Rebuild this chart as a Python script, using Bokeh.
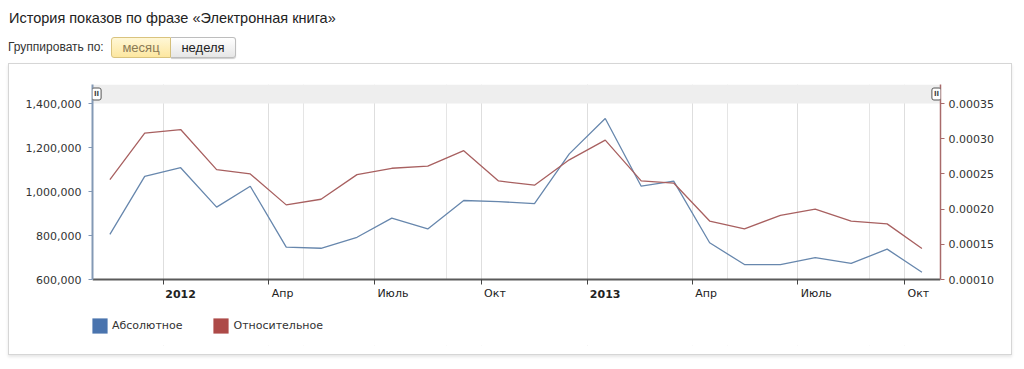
import pandas as pd
from bokeh.plotting import figure
from bokeh.models import (Range1d, LinearAxis, DatetimeAxis, FixedTicker, BoxAnnotation, Label,
                          Legend, LegendItem, Div, CustomJSTickFormatter, NumeralTickFormatter,
                          PrintfTickFormatter, ColumnDataSource, Grid)
from bokeh.layouts import column
from bokeh.embed import file_html
from bokeh.resources import INLINE

# ---------------- data ----------------
title_text = "История показов по фразе «Электронная книга»"
group_label = "Группировать по:"
group_buttons = ["месяц", "неделя"]
series_names = ["Абсолютное", "Относительное"]

months = ["2011-11", "2011-12", "2012-01", "2012-02", "2012-03", "2012-04", "2012-05",
          "2012-06", "2012-07", "2012-08", "2012-09", "2012-10", "2012-11", "2012-12",
          "2013-01", "2013-02", "2013-03", "2013-04", "2013-05", "2013-06", "2013-07",
          "2013-08", "2013-09", "2013-10"]
abs_vals = [805000, 1069000, 1108000, 929000, 1024000, 747000, 742000, 792000, 879000,
            830000, 959000, 954000, 945000, 1171000, 1332000, 1024000, 1047000, 767000,
            668000, 668000, 699000, 673000, 738000, 633000]
rel_vals = [0.000242, 0.000308, 0.000313, 0.000256, 0.000250, 0.000206, 0.000214, 0.000249,
            0.000258, 0.000261, 0.000283, 0.000240, 0.000234, 0.000270, 0.000298, 0.000240,
            0.000237, 0.000183, 0.000172, 0.000191, 0.000200, 0.000183, 0.000179, 0.000144]

tick_dates = ["2012-01-01", "2012-04-01", "2012-07-01", "2012-10-01",
              "2013-01-01", "2013-04-01", "2013-07-01", "2013-10-01"]
tick_labels = ["2012", "Апр", "Июль", "Окт", "2013", "Апр", "Июль", "Окт"]
tick_bold = [True, False, False, False, True, False, False, False]
left_ticks = [600000, 800000, 1000000, 1200000, 1400000]
right_ticks = [0.00010, 0.00015, 0.00020, 0.00025, 0.00030, 0.00035]
x_start, x_end = "2011-11-01", "2013-11-01"


def ms(s):
    return pd.Timestamp(s).value / 1e6


dates = [pd.Timestamp(m + "-16") for m in months]
source = ColumnDataSource(dict(date=dates, abs=abs_vals, rel=rel_vals))

FONT = "DejaVu Sans"
BLUE_LINE = "#6787ad"
RED_LINE = "#a86060"
BLUE_SQ = "#4a74ae"
RED_SQ = "#ad4a48"

# layout of the frame (pixels): navigator band on top, data area, legend area below
BAND_PX, DATA_PX, BELOW_PX = 19, 176, 66

left_lo, left_hi = left_ticks[0], left_ticks[-1]
right_lo, right_hi = right_ticks[0], right_ticks[-1]
lspan, rspan = left_hi - left_lo, right_hi - right_lo
y_range = Range1d(left_lo - lspan * BELOW_PX / DATA_PX, left_hi + lspan * BAND_PX / DATA_PX)
y2_range = Range1d(right_lo - rspan * BELOW_PX / DATA_PX, right_hi + rspan * BAND_PX / DATA_PX)

p = figure(width=1004, height=292, x_axis_location=None,
           x_range=Range1d(pd.Timestamp(x_start), pd.Timestamp(x_end)),
           y_range=y_range, output_backend="svg", toolbar_location=None,
           min_border_left=83, min_border_right=73, min_border_top=20, min_border_bottom=11,
           background_fill_color="white", border_fill_color="white")
p.outline_line_color = None
p.extra_y_ranges = {"rel": y2_range}
p.styles = {"border": "1px solid #d6d6d6", "box-shadow": "0 2px 3px rgba(0,0,0,0.10)"}

# vertical grid at the month ticks
p.ygrid.visible = False
xgrid = Grid(dimension=0, ticker=FixedTicker(ticks=[ms(d) for d in tick_dates]),
             grid_line_color="#dedede")
p.add_layout(xgrid)

# navigator band and white area below the x axis (covers grid below axis)
p.add_layout(BoxAnnotation(bottom=left_hi, fill_color="#eeeeee", fill_alpha=1,
                           line_color=None, level="underlay"))
p.add_layout(BoxAnnotation(top=left_lo, fill_color="white", fill_alpha=1,
                           line_color=None, level="underlay"))

# x axis, fixed at the bottom of the data area
xax = DatetimeAxis(fixed_location=left_lo, ticker=FixedTicker(ticks=[ms(d) for d in tick_dates]),
                   formatter=CustomJSTickFormatter(code="return ''"))
xax.axis_line_color = "#5a5a5a"
xax.axis_line_width = 2
xax.major_tick_line_color = "#444444"
xax.major_tick_out = 5
xax.major_tick_in = 0
xax.minor_tick_line_color = None
p.add_layout(xax, "below")

# left axis
yax = p.yaxis[0]
yax.ticker = FixedTicker(ticks=left_ticks)
yax.bounds = (left_lo, y_range.end)
yax.formatter = NumeralTickFormatter(format="0,0")
yax.axis_line_color = "#8399b5"
yax.axis_line_width = 2
yax.major_tick_line_color = "#8399b5"
yax.major_tick_out = 4
yax.major_tick_in = 0
yax.minor_tick_line_color = None
yax.major_label_standoff = 7
yax.major_label_text_font = FONT
yax.major_label_text_font_size = "11px"
yax.major_label_text_color = "#333333"

# right axis
rax = LinearAxis(y_range_name="rel", ticker=FixedTicker(ticks=right_ticks),
                 formatter=PrintfTickFormatter(format="%.5f"), bounds=(right_lo, y2_range.end))
rax.axis_line_color = "#a86a6a"
rax.axis_line_width = 1.5
rax.major_tick_line_color = "#a86a6a"
rax.major_tick_out = 4
rax.major_tick_in = 0
rax.minor_tick_line_color = None
rax.major_label_standoff = 4
rax.major_label_text_font = FONT
rax.major_label_text_font_size = "11px"
rax.major_label_text_color = "#333333"
p.add_layout(rax, "right")

# series
p.line("date", "abs", source=source, line_color=BLUE_LINE, line_width=1.3)
p.line("date", "rel", source=source, y_range_name="rel", line_color=RED_LINE, line_width=1.3)

# x tick labels (left-aligned after the tick, years bold)
for d, lab, bold in zip(tick_dates, tick_labels, tick_bold):
    p.add_layout(Label(x=ms(d), y=left_lo, text=lab, x_offset=2 if bold else 3, y_offset=-14,
                       text_align="left", text_baseline="middle", text_font=FONT,
                       text_font_size="11px", text_color="#222222",
                       text_font_style="bold" if bold else "normal"))

# navigator handles
band_mid = left_hi + (y_range.end - left_hi) / 2
for hx, off in ((x_start, 4), (x_end, -4)):
    p.add_layout(Label(x=ms(hx), y=band_mid, text="II", x_offset=off, text_align="center",
                       text_baseline="middle", text_font=FONT, text_font_size="7px",
                       text_font_style="bold", text_color="#444444",
                       background_fill_color="white", border_line_color="#555555",
                       border_line_width=1, padding=2, border_radius=2))

# legend swatches: zero-size rects on the series data (legend draws filled squares)
sw1 = p.rect(x="date", y="abs", width=0, height=0, source=source,
             fill_color=BLUE_SQ, line_color=None)
sw2 = p.rect(x="date", y="rel", width=0, height=0, source=source, y_range_name="rel",
             fill_color=RED_SQ, line_color=None)
legend = Legend(items=[LegendItem(label=series_names[0], renderers=[sw1]),
                       LegendItem(label=series_names[1], renderers=[sw2])],
                orientation="horizontal", location=(-2, 10), glyph_width=19, glyph_height=19,
                label_height=19, label_standoff=3, spacing=29, padding=0, margin=0,
                border_line_color=None, background_fill_alpha=0,
                label_text_font=FONT, label_text_font_size="11px", label_text_color="#333333")
p.add_layout(legend)

# header (title + grouping buttons)
header_html = f"""
<div style="position:relative;width:1004px;height:55px;font-family:Arial,'Liberation Sans',sans-serif;">
  <div style="position:absolute;left:1px;top:0px;font-size:14.5px;color:#222;white-space:nowrap;">{title_text}</div>
  <div style="position:absolute;left:0px;top:29px;font-size:12px;line-height:21px;color:#333;white-space:nowrap;">{group_label}</div>
  <div style="position:absolute;box-sizing:border-box;left:103px;top:29px;width:60px;height:21px;border:1px solid #d9c37e;border-radius:3px 0 0 3px;background:linear-gradient(#fff7d6,#fde7a0);color:#8a7a55;font-size:13px;line-height:19px;text-align:center;">{group_buttons[0]}</div>
  <div style="position:absolute;box-sizing:border-box;left:163px;top:29px;width:65px;height:21px;border:1px solid #bdbdbd;border-left:none;border-radius:0 3px 3px 0;background:linear-gradient(#ffffff,#e6e6e6);color:#222;font-size:13px;line-height:19px;text-align:center;box-shadow:0 1px 1px rgba(0,0,0,0.2);">{group_buttons[1]}</div>
</div>
"""
header = Div(text=header_html, width=1004, height=55, margin=0)
p.margin = 0

layout = column(header, p, spacing=0, margin=(8, 8, 8, 8))
open("out.html", "w").write(file_html(layout, INLINE))
